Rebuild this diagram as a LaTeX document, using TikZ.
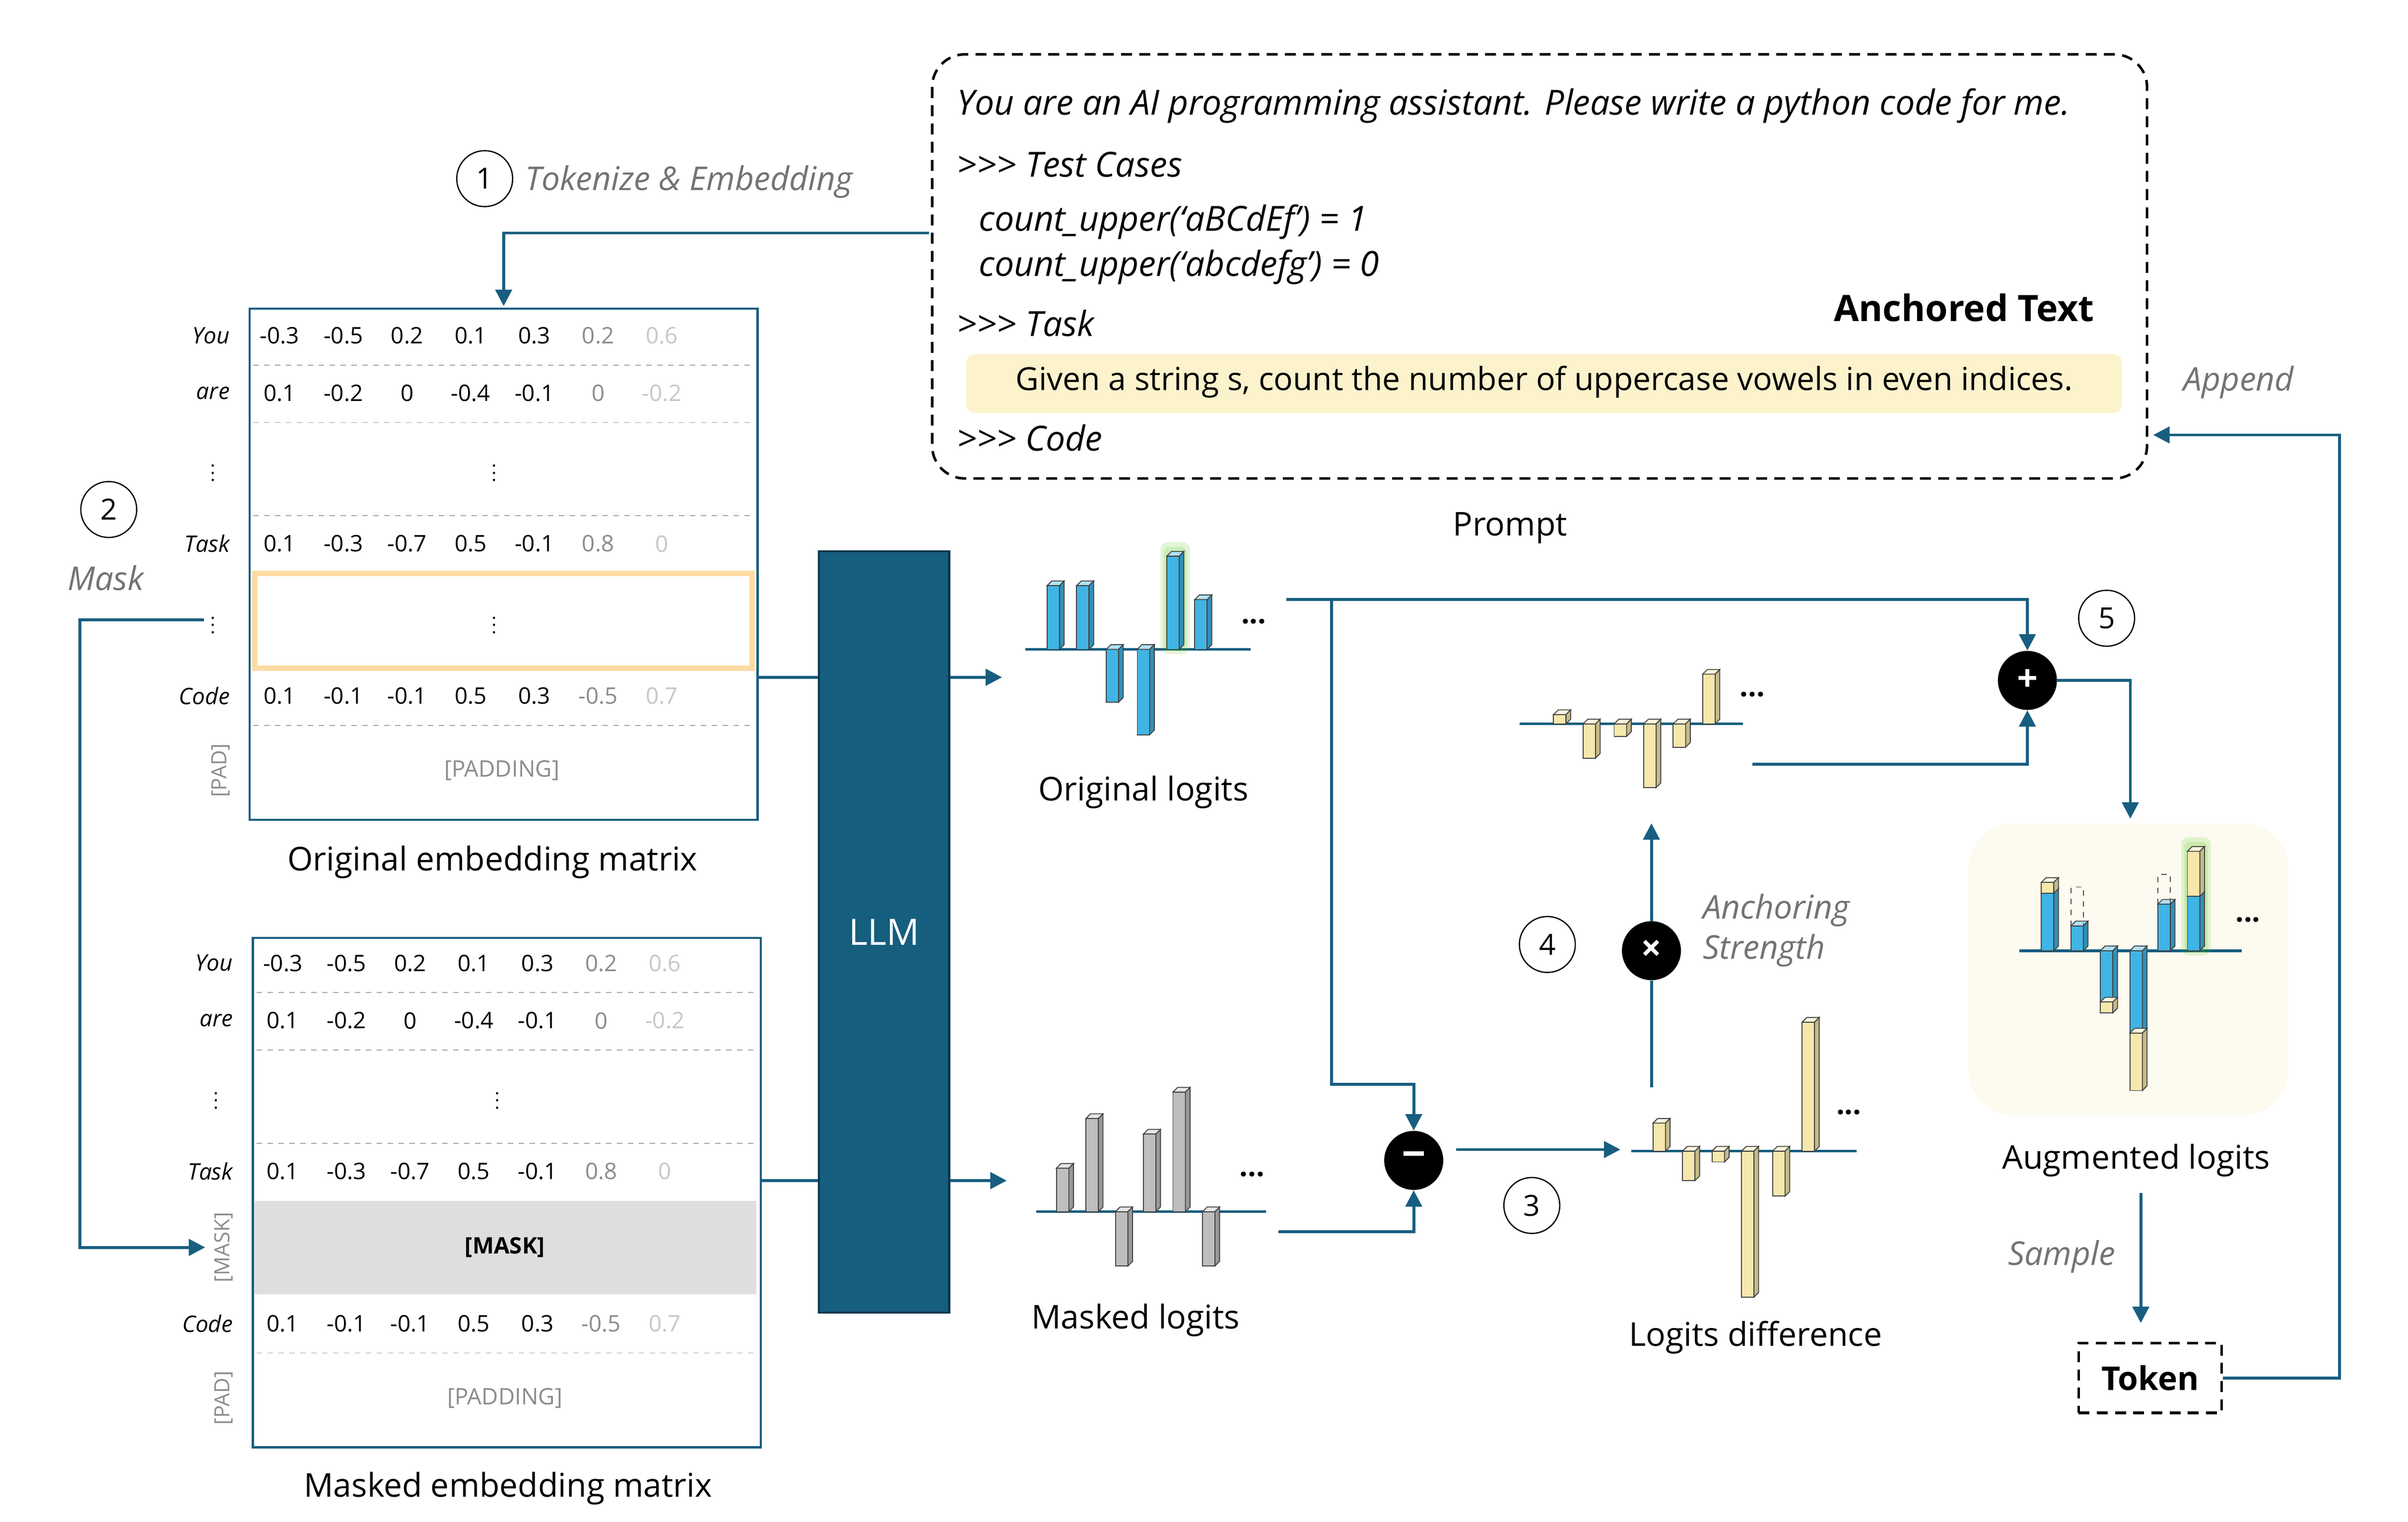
\documentclass[tikz,border=0pt]{standalone}
\usepackage{fontspec}
\setmainfont{Open Sans}
\usepackage{tikz}
\usetikzlibrary{calc}
\usetikzlibrary{positioning}
\usetikzlibrary{arrows.meta}
\definecolor{flowteal}{RGB}{24,94,128}
\definecolor{llmblue}{RGB}{22,94,126}
\definecolor{barblue}{RGB}{64,180,228}
\definecolor{baryel}{RGB}{246,232,172}
\definecolor{bargray}{RGB}{190,190,190}
\definecolor{hlyel}{RGB}{252,242,204}
\definecolor{cream}{RGB}{253,251,240}
\newcommand{\fs}[1]{\fontsize{#1}{#1}\selectfont}
\newcommand{\gtr}{{>}{>}{>}}
% one 3d bar: colour, x, base, end
\newcommand{\lbar}[4]{%
  \filldraw[fill=#1,draw=black!75,line width=0.5pt] (#2-4,#3) rectangle (#2+4,#4);
  \pgfmathsetmacro{\yt}{min(#3,#4)}
  \pgfmathsetmacro{\yb}{max(#3,#4)}
  \filldraw[fill=#1!40!white,draw=black!75,line width=0.5pt]
    (#2-4,\yt) -- (#2-1,\yt-3) -- (#2+7,\yt-3) -- (#2+4,\yt) -- cycle;
  \filldraw[fill=#1!80!black,draw=black!75,line width=0.5pt]
    (#2+4,\yt) -- (#2+7,\yt-3) -- (#2+7,\yb-3) -- (#2+4,\yb) -- cycle;
}
\newcommand{\glow}[3]{%
  \fill[green!50!olive,opacity=0.15,rounded corners=4] (#1-8,#2+3) rectangle (#1+11,#3-9);
  \fill[green!50!olive,opacity=0.15,rounded corners=3] (#1-6,#2+1) rectangle (#1+9,#3-6);
}
% one matrix row: first x, y, values
\newcommand{\matrow}[3]{%
  \foreach \v [count=\i from 0] in {#3} {
    \ifnum\i=5 \def\tc{black!45}\else\ifnum\i=6 \def\tc{black!22}\else\def\tc{black}\fi\fi
    \node[text=\tc,font=\fs{12.5}] at (#1+\i*41,#2) {\v};
  }
}
\tikzset{
  flow/.style={flowteal,line width=1.6pt},
  arr/.style={flow,-{Triangle[length=9pt,width=9pt]}},
  stepnum/.style={circle,draw=black,line width=0.7pt,minimum size=36*0.03cm,inner sep=0pt,font=\fs{16}},
  op/.style={circle,fill=black,text=white,minimum size=38*0.03cm,inner sep=0pt,font=\bfseries\fs{20}},
  note/.style={text=black!55,font=\itshape\fs{18}},
  title/.style={font=\fs{18}},
  rowlab/.style={anchor=east,font=\itshape\fs{12.5}},
  rotlab/.style={rotate=90,text=black!45,font=\fs{11.5}},
  sep/.style={black!35,dashed,line width=0.5pt},
  ptext/.style={anchor=west,font=\itshape\fs{19}},
  dbox/.style={dash pattern=on 6pt off 4pt,line width=1.4pt},
}
\begin{document}
\begin{tikzpicture}[x=0.03cm,y=-0.03cm]
\useasboundingbox (0,0) rectangle (1550,979.5);

% prompt
\draw[dbox,rounded corners=18] (600,35) rectangle (1382,308);
\node (line1) [ptext] at (612,68) {You are an AI programming assistant. Please write a python code for me.};
\node (tcase) [ptext] at (612,106) {\gtr\ Test Cases};
\node (ex1) [ptext] at (626,143) {count\_upper(‘aBCdEf’) = 1};
\node (ex2) [ptext] at (626,172) {count\_upper(‘abcdefg’) = 0};
\node (task) [ptext] at (612,208) {\gtr\ Task};
\node (anch) [anchor=east,font=\bfseries\fs{20}] at (1352,198) {Anchored Text};
\fill[hlyel,rounded corners=5] (622,228) rectangle (1366,266);
\node (goal) [font=\fs{17.5}] at (994,246) {Given a string s, count the number of uppercase vowels in even indices.};
\node (code) [ptext] at (612,282) {\gtr\ Code};
\node (prompt) [title] at (972,340) {Prompt};
\coordinate (pin) at (598,150);
\coordinate (pback) at (1386,280);

% original embedding matrix
\node (s1) [stepnum] at (312,115) {1};
\node (tok) [note,anchor=west] at (334,117) {Tokenize \& Embedding};
\begin{scope}
  \draw[sep] (163,235) -- (485,235);
  \draw[sep] (163,272) -- (485,272);
  \draw[sep] (163,332) -- (485,332);
  \draw[sep] (163,467) -- (485,467);
  \draw[hlyel!80!orange,line width=3pt] (164,369) rectangle (484,430);
  \node (orig) [draw=flowteal,line width=1.2pt,minimum width=327*0.03cm,minimum height=329*0.03cm,anchor=north west]
    at (160,198) {};
  \matrow{180}{216}{-0.3,-0.5,0.2,0.1,0.3,0.2,0.6}
  \matrow{180}{253}{0.1,-0.2,0,-0.4,-0.1,0,-0.2}
  \matrow{180}{350}{0.1,-0.3,-0.7,0.5,-0.1,0.8,0}
  \matrow{180}{448}{0.1,-0.1,-0.1,0.5,0.3,-0.5,0.7}
  \node at (318,301) {$\vdots$};
  \node at (318,399) {$\vdots$};
  \node[text=black!45,font=\fs{12.5}] at (323,496) {[PADDING]};
  \node[rowlab] at (152,216) {You};
  \node[rowlab] at (152,253) {are};
  \node at (137,301) {$\vdots$};
  \node[rowlab] at (152,350) {Task};
  \node (dots1) at (137,399) {$\vdots$};
  \node[rowlab] at (152,448) {Code};
  \node[rotlab] at (142,496) {[PAD]};
\end{scope}
\node (origt) [title] at (317,555) {Original embedding matrix};

% masked embedding matrix
\node (s2) [stepnum] at (70,328) {2};
\node (maskt) [note] at (68,372) {Mask};
\begin{scope}
  \fill[black!13] (164,773) rectangle (487,833);
  \draw[sep] (165,639) -- (487,639);
  \draw[sep] (165,676) -- (487,676);
  \draw[sep] (165,736) -- (487,736);
  \draw[sep] (165,871) -- (487,871);
  \node (mask) [draw=flowteal,line width=1.2pt,minimum width=327*0.03cm,minimum height=328*0.03cm,anchor=north west]
    at (162,603) {};
  \matrow{182}{620}{-0.3,-0.5,0.2,0.1,0.3,0.2,0.6}
  \matrow{182}{657}{0.1,-0.2,0,-0.4,-0.1,0,-0.2}
  \matrow{182}{754}{0.1,-0.3,-0.7,0.5,-0.1,0.8,0}
  \matrow{182}{852}{0.1,-0.1,-0.1,0.5,0.3,-0.5,0.7}
  \node at (320,705) {$\vdots$};
  \node[font=\bfseries\fs{12.5}] at (325,803) {[MASK]};
  \node[text=black!45,font=\fs{12.5}] at (325,900) {[PADDING]};
  \node[rowlab] at (154,620) {You};
  \node[rowlab] at (154,657) {are};
  \node at (139,705) {$\vdots$};
  \node[rowlab] at (154,754) {Task};
  \node[rotlab] (maskrow) at (144,803) {[MASK]};
  \node[rowlab] at (154,852) {Code};
  \node[rotlab] at (144,900) {[PAD]};
\end{scope}
\node (maskt2) [title] at (327,958) {Masked embedding matrix};

% LLM
\node (llm) [fill=llmblue,draw=llmblue!60!black,line width=1.2pt,minimum width=84*0.03cm,minimum height=490*0.03cm,
  text=white,font=\fs{20}] at (569,600) {LLM};

% original logits
\draw[flowteal,line width=1.5pt] (660,418) -- (805,418);
\glow{755}{418}{358}
\lbar{barblue}{678}{418}{377}
\lbar{barblue}{697}{418}{377}
\lbar{barblue}{716}{418}{452}
\lbar{barblue}{736}{418}{473}
\lbar{barblue}{755}{418}{358}
\lbar{barblue}{773}{418}{386}
\node (od) [font=\bfseries\fs{16}] at (807,400) {...};
\node (olog) [title] at (736,510) {Original logits};
\coordinate (oin) at (645,436);
\coordinate (oout) at (828,386);

% masked logits
\draw[flowteal,line width=1.5pt] (667,780) -- (815,780);
\lbar{bargray}{684}{780}{752}
\lbar{bargray}{703}{780}{720}
\lbar{bargray}{722}{780}{815}
\lbar{bargray}{740}{780}{730}
\lbar{bargray}{759}{780}{703}
\lbar{bargray}{778}{780}{815}
\node (md) [font=\bfseries\fs{16}] at (806,756) {...};
\node (mlog) [title] at (731,850) {Masked logits};
\coordinate (min) at (648,760);
\coordinate (mout) at (823,793);

% logits difference
\draw[flowteal,line width=1.5pt] (1050,741) -- (1195,741);
\lbar{baryel}{1068}{741}{723}
\lbar{baryel}{1087}{741}{760}
\lbar{baryel}{1106}{741}{748}
\lbar{baryel}{1125}{741}{835}
\lbar{baryel}{1145}{741}{770}
\lbar{baryel}{1164}{741}{658}
\node (dd) [font=\bfseries\fs{16}] at (1190,716) {...};
\node (dlog) [title] at (1130,861) {Logits difference};
\coordinate (din) at (1043,740);
\coordinate (dout) at (1063,700);

% scaled difference
\draw[flowteal,line width=1.5pt] (978,466) -- (1122,466);
\lbar{baryel}{1004}{466}{460}
\lbar{baryel}{1023}{466}{488}
\lbar{baryel}{1043}{466}{474}
\lbar{baryel}{1062}{466}{507}
\lbar{baryel}{1081}{466}{481}
\lbar{baryel}{1100}{466}{434}
\node (sd) [font=\bfseries\fs{16}] at (1128,447) {...};
\coordinate (sin) at (1063,530);
\coordinate (sout) at (1128,492);

% operators
\node (minus) [op] at (910,747) {\rule[0.7ex]{0.55em}{2.4pt}};
\node (times) [op] at (1063,612) {\textbf{×}};
\node (plus) [op] at (1305,438) {+};
\node (s3) [stepnum] at (986,776) {3};
\node (s4) [stepnum] at (996,608) {4};
\node (s5) [stepnum] at (1356,398) {5};
\node (astr) [note,align=left,anchor=west] at (1092,599) {Anchoring\\[4pt]Strength};

% augmented logits
\fill[cream,rounded corners=25] (1267,530) rectangle (1473,718);
\draw[flowteal,line width=1.5pt] (1300,612) -- (1443,612);
\glow{1412}{612}{548}
\lbar{barblue}{1318}{612}{575}
\lbar{baryel}{1318}{575}{568}
\lbar{barblue}{1337}{612}{596}
\draw[black!70,dashed,line width=0.5pt] (1333,596) rectangle (1341,571);
\lbar{barblue}{1356}{612}{645}
\lbar{baryel}{1356}{645}{652}
\lbar{barblue}{1375}{612}{665}
\lbar{baryel}{1375}{665}{702}
\lbar{barblue}{1393}{612}{582}
\draw[black!70,dashed,line width=0.5pt] (1389,582) rectangle (1397,563);
\lbar{barblue}{1412}{612}{577}
\lbar{baryel}{1412}{577}{548}
\node (ad) [font=\bfseries\fs{16}] at (1447,592) {...};
\node (alog) [title] at (1375,747) {Augmented logits};
\node (samp) [note] at (1327,809) {Sample};
\node (token) [draw,dbox,minimum width=92*0.03cm,minimum height=45*0.03cm,font=\bfseries\fs{18}]
  at (1384,887) {Token};
\node (app) [note] at (1441,246) {Append};
\coordinate (aout) at (1378,768);

% connectors
\draw[arr] (pin) -| ($(orig.north)+(0,-1)$);
\draw[arr] (dots1.west) -- ++(-80,0) |- ($(maskrow.south)+(-22,0)$);
\draw[flow] (orig.east |- 0,436) -- (llm.west |- 0,436);
\draw[flow] (mask.east |- 0,760) -- (llm.west |- 0,760);
\draw[arr] (llm.east |- oin) -- (oin);
\draw[arr] (llm.east |- min) -- (min);
\draw[arr] (oout) -| (plus.north);
\draw[arr] (857,386) -- (857,698) -| (minus.north);
\draw[arr] (mout) -| (minus.south);
\draw[arr] (minus.east) ++(8,-7) -- (din);
\draw[flow] (dout) -- (times.south);
\draw[arr] (times.north) -- (sin);
\draw[arr] (sout) -| (plus.south);
\draw[arr] (plus.east) -- ++(47,0) -- ++(0,89);
\draw[arr] (aout) -- ($(token.north)+(-6,-12)$);
\draw[arr] (token.east) -- ++(75,0) |- (pback);
\end{tikzpicture}
\end{document}
